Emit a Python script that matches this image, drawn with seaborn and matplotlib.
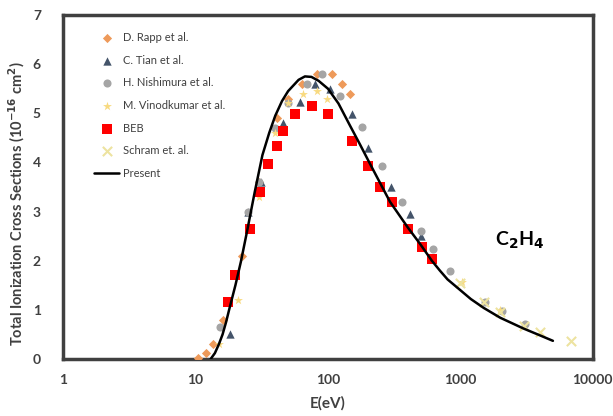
import numpy as np
import pandas as pd
import matplotlib
matplotlib.use("Agg")
import matplotlib.pyplot as plt
import seaborn as sns

# ---- data ----
rapp_E = [10.5, 12, 13.5, 16, 22.5, 30, 41, 50, 64, 83, 107, 128, 146]
rapp_S = [0.03, 0.12, 0.3, 0.8, 2.1, 3.6, 4.9, 5.3, 5.6, 5.79, 5.79, 5.59, 5.39]

tian_E = [18.2, 25, 31, 46, 62, 80, 103, 152, 200, 300, 415, 500]
tian_S = [0.5, 3.0, 3.6, 4.8, 5.22, 5.59, 5.49, 4.98, 4.3, 3.5, 2.95, 2.5]

nish_E = [15.3, 25, 30, 40, 50, 70, 90, 123, 181, 256, 363, 500, 620, 830, 1530, 2070, 3070]
nish_S = [0.65, 3.0, 3.6, 4.7, 5.2, 5.6, 5.79, 5.35, 4.72, 3.92, 3.19, 2.6, 2.24, 1.79, 1.16, 0.98, 0.71]

vino_E = [15, 21, 30, 40, 50, 65, 83, 98, 1030, 1980]
vino_S = [0.3, 1.2, 3.3, 4.6, 5.2, 5.4, 5.45, 5.3, 1.56, 1.0]

beb_E = [17.6, 20, 25.8, 30.6, 35, 41, 45.6, 56, 76, 100, 152, 200, 247, 303, 400, 512, 610]
beb_S = [1.15, 1.7, 2.64, 3.4, 3.96, 4.33, 4.63, 4.98, 5.14, 4.99, 4.43, 3.92, 3.5, 3.19, 2.64, 2.28, 2.03]

schram_E = [1000, 1500, 2000, 3000, 4000, 6900]
schram_S = [1.55, 1.15, 0.95, 0.67, 0.55, 0.37]

pres_E = [13, 14, 15, 16, 17, 18, 20, 22, 24.5, 28, 32, 36, 40, 45, 50, 60, 67, 75, 85, 100,
          120, 146, 175, 207, 250, 294, 331, 400, 500, 609, 700, 800, 1000, 1200, 1500,
          2000, 3000, 4000, 5000]
pres_S = [0.0, 0.12, 0.3, 0.5, 0.75, 1.02, 1.5, 1.98, 2.6, 3.4, 4.15, 4.6, 4.95, 5.25, 5.45,
          5.68, 5.75, 5.74, 5.66, 5.5, 5.2, 4.76, 4.36, 3.98, 3.56, 3.2, 3.0, 2.68, 2.33,
          2.0, 1.8, 1.62, 1.4, 1.22, 1.04, 0.84, 0.62, 0.48, 0.37]

x_ticks = [1, 10, 100, 1000, 10000]
y_ticks = [0, 1, 2, 3, 4, 5, 6, 7]

sns.set_theme(style="white")
plt.rcParams['font.family'] = ['Lato', 'DejaVu Sans']

fig = plt.figure(figsize=(6.13, 4.16), dpi=100)
ax = fig.add_axes([0.103, 0.137, 0.864, 0.827])

series = [
    ("D. Rapp et al.", rapp_E, rapp_S, "D", "#EE9A5A", 22),
    ("C. Tian et al.", tian_E, tian_S, "^", "#44546A", 36),
    ("H. Nishimura et al.", nish_E, nish_S, "o", "#A5A5A5", 34),
    ("M. Vinodkumar et al.", vino_E, vino_S, "*", "#F8DA80", 45),
    ("BEB", beb_E, beb_S, "s", "#FF0000", 42),
    ("Schram et. al.", schram_E, schram_S, "x", "#EDE3A0", 45),
]
for name, E, S, m, c, s in series:
    df = pd.DataFrame({"E": E, "S": S})
    if m == "x":
        sns.scatterplot(data=df, x="E", y="S", ax=ax, marker=m, color=c, s=s,
                        linewidth=1.5, label=name, zorder=3)
    else:
        sns.scatterplot(data=df, x="E", y="S", ax=ax, marker=m, color=c, s=s,
                        edgecolor=c, linewidth=0, label=name, zorder=3)

dfp = pd.DataFrame({"E": pres_E, "S": pres_S})
sns.lineplot(data=dfp, x="E", y="S", ax=ax, color="black", linewidth=1.8,
             label="Present", zorder=4)

ax.set_xscale("log")
ax.set_xlim(1, 10000)
ax.set_ylim(0, 7)
ax.set_xticks(x_ticks)
ax.set_xticklabels([str(t) for t in x_ticks])
ax.set_yticks(y_ticks)
ax.set_yticklabels([str(t) for t in y_ticks])
ax.minorticks_off()
ax.tick_params(axis="x", length=0, labelsize=10, labelcolor="#404040", pad=11)
ax.tick_params(axis="y", length=0, labelsize=10, labelcolor="#404040", pad=16)
for lab in ax.get_xticklabels() + ax.get_yticklabels():
    lab.set_fontweight("bold")

for sp in ax.spines.values():
    sp.set_color("#404040")
    sp.set_linewidth(2.5)

ax.set_xlabel("E(eV)", fontsize=11, fontweight="bold", color="#404040", labelpad=7)
ax.set_ylabel(r"Total Ionization Cross Sections (10$^{\mathbf{-16}}$ cm$^{\mathbf{2}}$)",
              fontsize=10.5, fontweight="bold", color="#404040")
ax.yaxis.set_label_coords(-0.068, 0.45)

ax.text(0.862, 0.345, r"C$_\mathbf{2}$H$_\mathbf{4}$", transform=ax.transAxes,
        fontsize=14, fontweight="bold", color="black", ha="center", va="center")

leg = ax.legend(loc="upper left", bbox_to_anchor=(0.04, 0.98), frameon=False,
                fontsize=8, labelspacing=1.05, handlelength=2.2, handletextpad=0.4,
                labelcolor="#404040")

fig.savefig("out.png", dpi=100)
